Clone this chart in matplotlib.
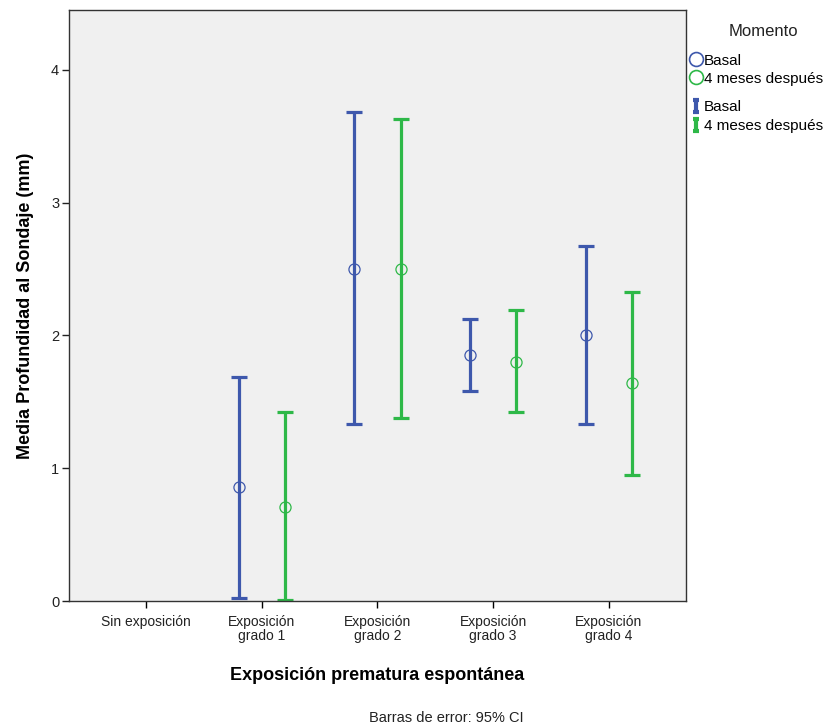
import numpy as np
import matplotlib.pyplot as plt
from matplotlib.lines import Line2D
from matplotlib.path import Path

plt.rcParams['font.family'] = ['Liberation Sans', 'DejaVu Sans']

categories = ['Sin exposición', 'Exposición\ngrado 1', 'Exposición\ngrado 2',
              'Exposición\ngrado 3', 'Exposición\ngrado 4']
groups = ['Basal', '4 meses después']

# medias e IC 95% (sin datos para "Sin exposición")
basal_mean = [np.nan, 0.86, 2.50, 1.85, 2.00]
basal_low = [np.nan, 0.02, 1.33, 1.58, 1.33]
basal_high = [np.nan, 1.69, 3.68, 2.12, 2.67]

post_mean = [np.nan, 0.71, 2.50, 1.80, 1.64]
post_low = [np.nan, 0.01, 1.38, 1.42, 0.95]
post_high = [np.nan, 1.42, 3.63, 2.19, 2.33]

blue = '#3e58ac'
green = '#2eb848'

fig = plt.figure(figsize=(8.39, 7.27), dpi=100)
ax = fig.add_axes([0.0822, 0.1733, 0.7354, 0.8129])
ax.set_facecolor('#f0f0f0')

x = np.arange(len(categories))
series = [(basal_mean, basal_low, basal_high, blue, -0.2),
          (post_mean, post_low, post_high, green, 0.2)]
for mean, low, high, col, off in series:
    mean = np.array(mean)
    err = np.vstack([mean - np.array(low), np.array(high) - mean])
    ax.errorbar(x + off, mean, yerr=err, fmt='none', ecolor=col,
                elinewidth=2.3, capsize=5.5, capthick=2.3, zorder=2)
    ax.plot(x + off, mean, 'o', mfc='none', mec=col, ms=8, mew=0.9, zorder=3)

ax.set_xlim(-0.667, 4.667)
ax.set_ylim(0, 4.45)
ax.set_xticks(x)
ax.set_xticklabels(categories, fontsize=10, color='#222222', linespacing=1.05)
ax.set_yticks([0, 1, 2, 3, 4])
ax.tick_params(axis='y', length=5, width=1, labelsize=10.5, colors='#222222', pad=2)
ax.tick_params(axis='x', length=5, width=1, pad=5)
for s in ax.spines.values():
    s.set_color('#333333')
    s.set_linewidth(1)

ax.set_xlabel('Exposición prematura espontánea', fontsize=13, fontweight='bold', labelpad=17)
ax.set_ylabel('Media Profundidad al Sondaje (mm)', fontsize=13, fontweight='bold', labelpad=12)

fig.text(0.532, 0.007, 'Barras de error: 95% CI', fontsize=10.5, ha='center', color='#222222')

# leyenda
ibar = Path([(-0.5, 1), (0.5, 1), (0, 1), (0, -1), (-0.5, -1), (0.5, -1)],
            [Path.MOVETO, Path.LINETO, Path.MOVETO, Path.LINETO, Path.MOVETO, Path.LINETO])
h1 = [Line2D([], [], ls='none', marker='o', mfc='none', mec=c, ms=10, mew=1.2)
      for c in (blue, green)]
h2 = [Line2D([], [], ls='none', marker=ibar, mfc='none', mec=c, ms=9, mew=3)
      for c in (blue, green)]
fig.legend(h1, groups, loc='upper left', bbox_to_anchor=(0.822, 0.926),
           frameon=False, fontsize=11, handlelength=0.8, handletextpad=0.15,
           labelspacing=0.25, borderaxespad=0, borderpad=0)
fig.legend(h2, groups, loc='upper left', bbox_to_anchor=(0.822, 0.862),
           frameon=False, fontsize=11, handlelength=0.8, handletextpad=0.15,
           labelspacing=0.3, borderaxespad=0, borderpad=0)
fig.text(0.91, 0.957, 'Momento', fontsize=12, ha='center', va='center', color='#222222')

fig.savefig('out.png', dpi=100)
